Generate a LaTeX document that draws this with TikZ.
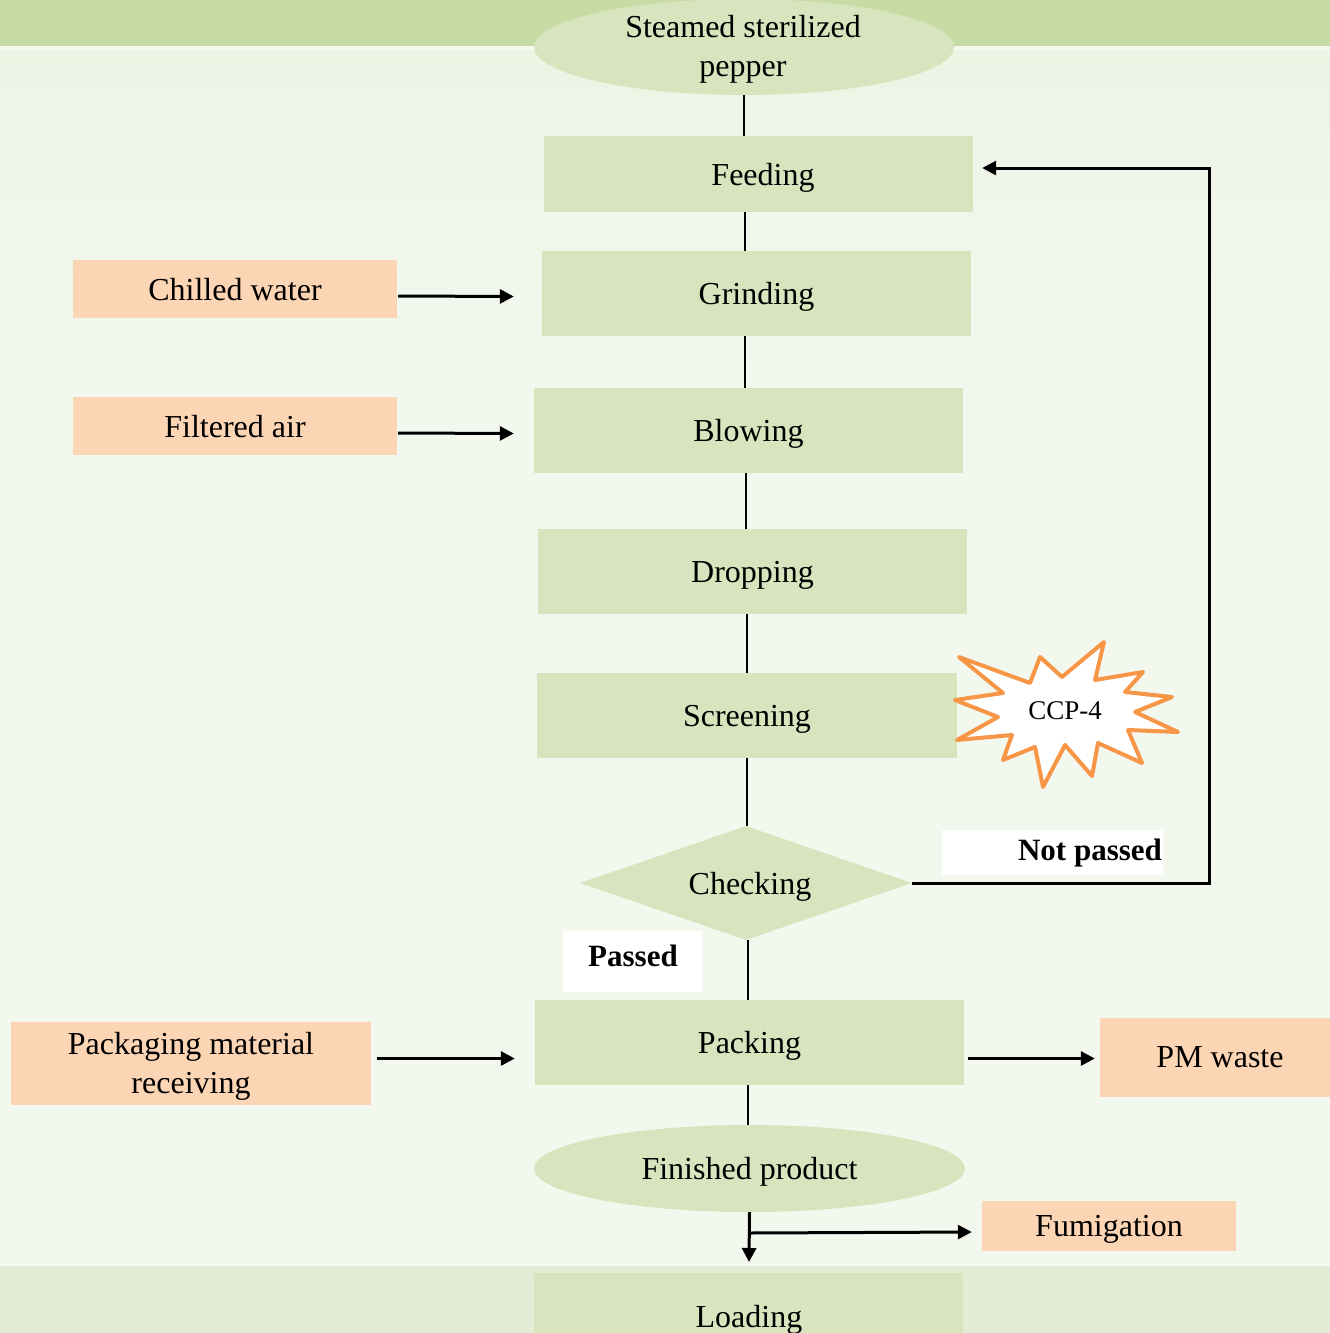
\documentclass[tikz,border=0pt]{standalone}
\usepackage{fontspec}
\setmainfont{Liberation Serif}
\usetikzlibrary{arrows.meta,shapes.geometric,calc}
\definecolor{nodegreen}{HTML}{D7E4BD}
\definecolor{sideorange}{HTML}{FCD5B5}
\definecolor{starorange}{HTML}{F79646}
\definecolor{bandgreen}{HTML}{C6DCA4}
\definecolor{bglight}{HTML}{EDF4E4}
\definecolor{bgmid}{HTML}{F3F8EF}
\definecolor{bandlow}{HTML}{E3EDD5}
\begin{document}
\begin{tikzpicture}[x=1pt,y=-1pt,
  txt/.style={font=\fontsize{32}{39}\selectfont},
  one/.style={text depth=0pt},
  procbox/.style={rectangle, fill=nodegreen, inner sep=0pt, txt, one},
  termell/.style={ellipse, fill=nodegreen, inner sep=0pt, txt, align=center},
  sidebox/.style={rectangle, fill=sideorange, inner sep=0pt, txt, align=center},
  labelbox/.style={rectangle, fill=white, inner sep=0pt},
  boldtxt/.style={font=\fontsize{31}{35}\selectfont\bfseries},
  conn/.style={draw=black, line width=2pt},
  arr/.style={draw=black, line width=3pt, -{Triangle[length=14pt,width=14pt]}},
]
\useasboundingbox (0,0) rectangle (1330,1333);
% background
\fill[bgmid] (0,0) rectangle (1330,1333);
\shade[top color=bglight, bottom color=bgmid] (0,46) rectangle (1330,400);
\fill[bandgreen] (0,0) rectangle (1330,46);
\fill[bglight!60!white] (0,46) rectangle (1330,50);
\fill[bandlow] (0,1266) rectangle (1330,1333);
\fill[bglight!60!white] (0,1262) rectangle (1330,1266);

% main chain
\node[termell, minimum width=420pt, minimum height=96pt] (steam) at (744,47) {};
\node[txt, align=center] (steamtxt) at (743,49) {Steamed sterilized\\pepper};
\node[procbox, minimum width=429pt, minimum height=76pt] (feed) at (758.5,174) {};
\node[txt, one] (feedtxt) at (763,174) {Feeding};
\node[procbox, minimum width=429pt, minimum height=85pt] (grind) at (756.5,293.5) {Grinding};
\node[procbox, minimum width=429pt, minimum height=85pt] (blow) at (748.5,430.5) {Blowing};
\node[procbox, minimum width=429pt, minimum height=85pt] (drop) at (752.5,571.5) {Dropping};
\node[procbox, minimum width=420pt, minimum height=85pt] (screen) at (747,715.5) {Screening};
\node[diamond, fill=nodegreen, inner sep=0pt, minimum width=332pt, minimum height=114pt, aspect=2.9] (check) at (746,883) {};
\node[txt, one] (checktxt) at (750,883) {Checking};
\node[procbox, minimum width=429pt, minimum height=85pt] (pack) at (749.5,1042.5) {Packing};
\node[termell, one, minimum width=431pt, minimum height=87pt] (fin) at (749.5,1168.5) {Finished product};
\node[procbox, minimum width=429pt, minimum height=90pt, anchor=north] (load) at (748.5,1273) {};
\node[txt, one] (loadtxt) at (749,1316) {Loading};

% side inputs
\node[sidebox, one, minimum width=324pt, minimum height=58pt] (chill) at (235,289) {Chilled water};
\node[sidebox, one, minimum width=324pt, minimum height=58pt] (air) at (235,426) {Filtered air};
\node[sidebox, minimum width=360pt, minimum height=83pt] (pmr) at (191,1063.5) {};
\node[txt, align=center] (pmrtxt) at (191,1066) {Packaging material\\receiving};
\node[sidebox, minimum width=230pt, minimum height=79pt] (pmw) at (1215,1057.5) {};
\node[txt, one] (pmwtxt) at (1220,1057.5) {PM waste};
\node[sidebox, one, minimum width=254pt, minimum height=50pt] (fumi) at (1109,1226) {Fumigation};

% labels
\node[labelbox, minimum width=139pt, minimum height=61pt] (passed) at (632.5,961.5) {};
\node[boldtxt, one] (passedtxt) at (633,956) {Passed};
\node[labelbox, minimum width=221pt, minimum height=45pt] (notp) at (1052.5,852.5) {};
\node[boldtxt, one] (notptxt) at (1090,850) {Not passed};

% CCP star
\filldraw[fill=white, draw=starorange, line width=4pt, line join=round]
 (959,657) -- (1030,683) -- (1040,657) -- (1062,677) -- (1104,642) -- (1095,680)
 -- (1143,672) -- (1125,692) -- (1172,697) -- (1135,712) -- (1178,732) -- (1128,730)
 -- (1142,763) -- (1098,743) -- (1092,776) -- (1065,745) -- (1043,787) -- (1035,747)
 -- (1003,760) -- (1012,735) -- (957,740) -- (998,717) -- (955,700) -- (1003,693) -- cycle;
\node[font=\fontsize{27}{30}\selectfont] (ccp) at (1065,711) {CCP-4};

% vertical connectors
\draw[conn] (steam.south) -- (feed.north -| steam.south);
\draw[conn] (745,212) -- (745,251);
\draw[conn] (745,336) -- (745,388);
\draw[conn] (746,473) -- (746,529);
\draw[conn] (747,614) -- (747,673);
\draw[conn] (747,758) -- (check.north -| 747,0);
\draw[conn] (748,940) -- (748,1000);
\draw[conn] (748,1085) -- (748,1125);

% side arrows
\draw[arr] (chill.east) ++(1,7) -- ($(grind.west)+(-28,3)$);
\draw[arr] (air.east) ++(1,7) -- ($(blow.west)+(-20,3)$);
\draw[arr] (pmr.east) ++(6,-5) -- ($(pack.west)+(-20,16)$);
\draw[arr] (pack.east) ++(4,16) -- ($(pmw.west)+(-5,1)$);

% not passed loop
\draw[arr] (check.east) -- (1209,883) -- (1209,168) -- ($(feed.east)+(9,-6)$);

% finished product outputs
\coordinate (split) at (749,1233);
\draw[arr] (fin.south) -- (749,1262);
\draw[arr] (split) -- ($(fumi.west)+(-10,6)$);
\end{tikzpicture}
\end{document}
